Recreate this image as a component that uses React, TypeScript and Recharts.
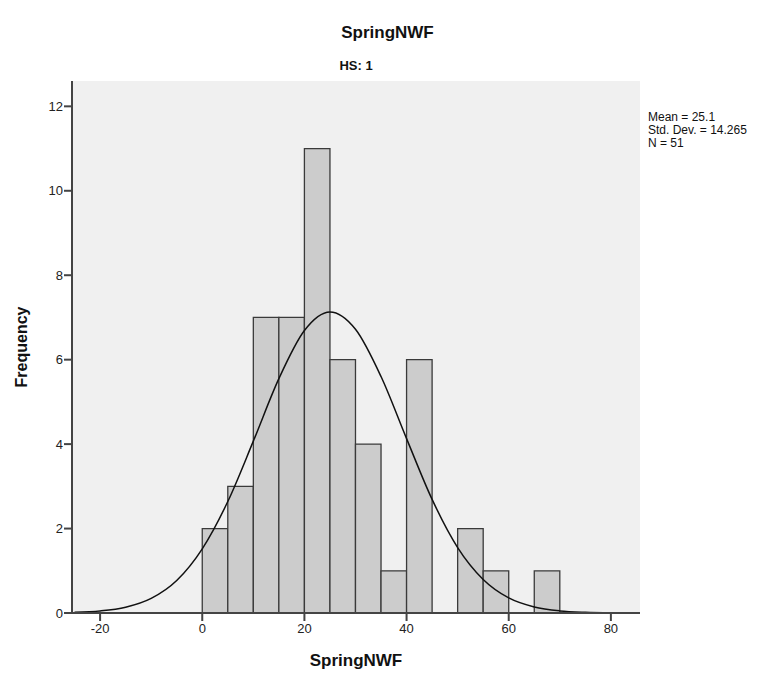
import { CartesianGrid, ComposedChart, Line, ReferenceArea, XAxis, YAxis } from 'recharts';

// histogram bins (lower edge) and counts
const binStarts = [0, 5, 10, 15, 20, 25, 30, 35, 40, 45, 50, 55, 60, 65];
const binCounts = [2, 3, 7, 7, 11, 6, 4, 1, 6, 0, 2, 1, 0, 1];
const binWidth = 5;

// normal curve
const curveX = [-25, -20, -15, -10, -5, 0, 5, 10, 15, 20, 25, 30, 35, 40, 45, 50, 55, 60, 65, 70, 75, 80, 85];
const curveY = [0.015, 0.048, 0.137, 0.346, 0.77, 1.52, 2.64, 4.07, 5.55, 6.69, 7.13, 6.72, 5.6, 4.13, 2.69, 1.55, 0.794, 0.357, 0.143, 0.05, 0.016, 0.004, 0.001];

const xTicks = [-20, 0, 20, 40, 60, 80];
const yTicks = [0, 2, 4, 6, 8, 10, 12];
const xDomain = [-25.5, 85.7];
const yDomain = [0, 12.6];

const statLines = ['Mean = 25.1', 'Std. Dev. = 14.265', 'N = 51'];

const font = 'Arial, "Liberation Sans", sans-serif';

function App(): JSX.Element {
  const curve = curveX.map((x, i) => ({ x: x, density: curveY[i] }));
  const tickStyle = { fill: '#222', fontSize: 13, fontFamily: font };
  return (
    <div style={{ position: 'absolute', left: 0, top: 0, width: 775, height: 677, background: '#fff', fontFamily: font }}>
      <div style={{ position: 'absolute', left: 0, width: 775, top: 23, textAlign: 'center', fontSize: 17, fontWeight: 'bold', color: '#111' }}>
        SpringNWF
      </div>
      <div style={{ position: 'absolute', left: 72, width: 568, top: 58, textAlign: 'center', fontSize: 13, fontWeight: 'bold', color: '#111' }}>
        HS: 1
      </div>
      <div style={{ position: 'absolute', left: 72, width: 568, top: 651, textAlign: 'center', fontSize: 17, fontWeight: 'bold', color: '#111' }}>
        SpringNWF
      </div>
      <div
        style={{
          position: 'absolute',
          left: 22,
          top: 347,
          transform: 'translate(-50%, -50%) rotate(-90deg)',
          fontSize: 16,
          fontWeight: 'bold',
          color: '#111',
          whiteSpace: 'nowrap',
        }}
      >
        Frequency
      </div>
      <div style={{ position: 'absolute', left: 648, top: 111, fontSize: 12, lineHeight: '13px', color: '#111' }}>
        {statLines.map((s) => (
          <div key={s}>{s}</div>
        ))}
      </div>
      <ComposedChart width={775} height={677} data={curve} margin={{ top: 81, right: 135, bottom: 34, left: 32 }}>
        <CartesianGrid fill="#f0f0f0" horizontal={false} vertical={false} />
        <XAxis
          xAxisId="top"
          orientation="top"
          type="number"
          domain={xDomain}
          allowDataOverflow
          height={0}
          tick={false}
          tickLine={false}
          axisLine={{ stroke: '#777', strokeWidth: 2 }}
        />
        <YAxis
          yAxisId="right"
          orientation="right"
          type="number"
          domain={yDomain}
          allowDataOverflow
          width={0}
          tick={false}
          tickLine={false}
          axisLine={{ stroke: '#777', strokeWidth: 2 }}
        />
        <XAxis
          dataKey="x"
          type="number"
          domain={xDomain}
          allowDataOverflow
          ticks={xTicks}
          height={30}
          tick={tickStyle}
          tickSize={8}
          tickMargin={3}
          axisLine={{ stroke: '#444', strokeWidth: 2 }}
          tickLine={{ stroke: '#444', strokeWidth: 2 }}
        />
        <YAxis
          type="number"
          domain={yDomain}
          allowDataOverflow
          ticks={yTicks}
          width={40}
          tick={tickStyle}
          tickSize={8}
          tickMargin={1}
          axisLine={{ stroke: '#444', strokeWidth: 2 }}
          tickLine={{ stroke: '#444', strokeWidth: 2 }}
        />
        {binStarts.map((b, i) =>
          binCounts[i] > 0 ? (
            <ReferenceArea
              key={b}
              x1={b}
              x2={b + binWidth}
              y1={0}
              y2={binCounts[i]}
              fill="#cccccc"
              fillOpacity={1}
              stroke="#3a3a3a"
              strokeWidth={1.3}
            />
          ) : null
        )}
        <Line
          type="monotone"
          dataKey="density"
          stroke="#111"
          strokeWidth={1.5}
          dot={false}
          activeDot={false}
          isAnimationActive={false}
        />
      </ComposedChart>
    </div>
  );
}

export default App;
